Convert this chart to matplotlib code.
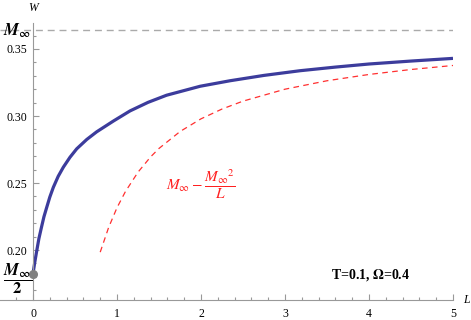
import matplotlib
matplotlib.use("Agg")
import matplotlib.pyplot as plt
from matplotlib.ticker import MultipleLocator

plt.rcParams['font.family'] = ['Liberation Serif', 'DejaVu Serif']
plt.rcParams['mathtext.fontset'] = 'stix'

# W(L) for T=0.1, Omega=0.4
L_vals = [0, 0.02, 0.044, 0.07, 0.1, 0.13, 0.163, 0.2, 0.242, 0.3, 0.361, 0.44, 0.52,
          0.64, 0.758, 0.956, 1.155, 1.37, 1.59, 1.99, 2.345, 2.75, 3.18, 3.6, 4.0,
          4.5, 5.0]
W_vals = [0.1823, 0.1905, 0.1993, 0.2085, 0.2168, 0.2248, 0.2318, 0.2395, 0.2468,
          0.2550, 0.2618, 0.2692, 0.2755, 0.2825, 0.2882, 0.2962, 0.3038, 0.3102,
          0.3155, 0.3222, 0.3263, 0.3303, 0.3338, 0.3365, 0.3388, 0.3410, 0.3430]

# asymptotic curve M_inf - M_inf^2 / L
L_asym = [0.8, 0.9, 1.0, 1.1, 1.25, 1.4, 1.5, 1.75, 2.0, 2.25, 2.5, 3.0, 3.5, 4.0, 4.5, 5.0]
W_asym = [0.1984, 0.2168, 0.2316, 0.2436, 0.2581, 0.2695, 0.2758, 0.2884, 0.2979,
          0.3052, 0.3111, 0.3200, 0.3263, 0.3310, 0.3347, 0.3377]

M_inf = 0.3642
y_ticks = [0.20, 0.25, 0.30, 0.35]
x_ticks = [0, 1, 2, 3, 4, 5]

W_px, H_px = 471, 320
fig = plt.figure(figsize=(W_px / 100, H_px / 100), dpi=100)
ax = fig.add_axes([0, 20 / H_px, 453 / W_px, 277 / H_px])

ax.axhline(M_inf, color='#aaaaaa', lw=1, dashes=(5, 3.5))
ax.plot(L_asym, W_asym, color='#ff3030', lw=0.9, dashes=(4.5, 3.5))
ax.plot(L_vals, W_vals, color='#3c3c9c', lw=2.3, solid_capstyle='butt')
ax.plot([0], [M_inf / 2], 'o', color='#808080', ms=5.5, clip_on=False, zorder=5)

ax.set_xlim(-0.393, 5.0)
ax.set_ylim(0.1627, 0.3694)

for s in ['top', 'right']:
    ax.spines[s].set_visible(False)
ax.spines['left'].set_position(('data', 0))
for s in ['left', 'bottom']:
    ax.spines[s].set_color('#999999')
    ax.spines[s].set_linewidth(0.8)

ax.set_xticks(x_ticks)
ax.set_yticks(y_ticks)
ax.set_yticklabels(['%.2f' % v for v in y_ticks])
ax.xaxis.set_minor_locator(MultipleLocator(0.2))
ax.yaxis.set_minor_locator(MultipleLocator(0.01))
ax.tick_params(which='both', direction='in', color='#999999', labelsize=8.5, width=0.8)
ax.tick_params(which='major', length=4.5, pad=4)
ax.tick_params(which='minor', length=2.5)
ax.tick_params(axis='x', pad=6)

# special y labels: M_inf and M_inf/2
fig.text(31 / W_px, 1 - 31 / H_px, r'$\mathbfit{M}_{\mathbf{\infty}}$', ha='right',
         va='center', fontsize=12)
fig.text(18 / W_px, 1 - 279 / H_px, r'$\dfrac{\mathbfit{M}_{\mathbf{\infty}}}{\mathbf{2}}$',
         ha='center', va='center', fontsize=12)

fig.text(201 / W_px, 1 - 184 / H_px, r'$M_{\infty} - \dfrac{{M_{\infty}}^{2}}{L}$',
         color='#ff2020', fontsize=11, ha='center', va='center')
ax.text(4.02, 0.181, r'T=0.1, $\mathbf{\Omega}$=0.4', fontsize=10, fontweight='bold',
        ha='center', va='center')

fig.text(33 / W_px, 1 - 8 / H_px, 'W', fontstyle='italic', fontsize=8.5, ha='center', va='center')
fig.text(466 / W_px, 1 - 300 / H_px, 'L', fontstyle='italic', fontsize=8.5, ha='center', va='center')

fig.savefig('out.png', dpi=100)
